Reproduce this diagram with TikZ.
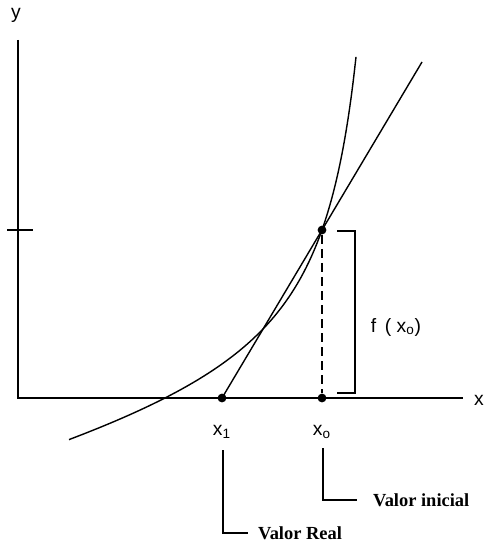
\documentclass[tikz,border=0pt]{standalone}
\usepackage{fontspec}
\setmainfont{Liberation Serif}
\setsansfont{Liberation Sans}
\usetikzlibrary{calc, positioning}

\tikzset{
  eixo/.style={black, line width=1.1pt},
  curva/.style={black, line width=0.8pt},
  ponto/.style={circle, fill=black, inner sep=0pt, minimum size=5pt},
  rotulo/.style={font=\sffamily\fontsize{11}{12}\selectfont, inner sep=1pt},
  nota/.style={font=\bfseries\fontsize{10.5}{12}\selectfont, inner sep=1pt, anchor=west}
}

\begin{document}
\begin{tikzpicture}[x=0.02cm, y=-0.02cm]
      \useasboundingbox (0,0) rectangle (485,544);

      % 1. eixos
      \coordinate (O) at (18,398);
      \coordinate (Ytop) at (18,40);
      \coordinate (Xend) at (463,398);
      \draw[eixo] (Ytop) -- (O) -- (Xend);
      \node[rotulo] (ylab) at (16,15) {y};
      \node[rotulo] (xlab) at (479,400) {x};
      \draw[eixo] (7,230) -- (33,230);

      % 2. curva f
      \draw[curva] plot[domain=69:356, samples=120, smooth]
        (\x, {398-(13775/(395-\x)+0.25*\x-101.1)});

      % 3. pontos x_1, x_0 e f(x_0)
      \node[ponto] (P1) at (222,398) {};
      \node[ponto] (P0) at (322,398) {};
      \node[ponto] (F0) at (322,230) {};

      % 4. reta tangente
      \coordinate (T) at ($(P1)!2!(F0)$);
      \draw[curva] (P1.center) -- (T);
      \draw[curva, dashed, dash pattern=on 5pt off 3pt] (F0) -- (P0);

      % 5. chave de f(x_0)
      \coordinate (B1) at (337,231);
      \coordinate (B2) at (355,231);
      \coordinate (B3) at (355,393);
      \coordinate (B4) at (337,393);
      \draw[curva] (B1) -- (B2) -- (B3) -- (B4);
      \node[rotulo] (fx0) at (396,327) {f \,( x\textsubscript{o})};

      % 6. rotulos e indicacoes
      \node[rotulo] (x1lab) at (222,432) {x\textsubscript{1}};
      \node[rotulo] (x0lab) at (322,432) {x\textsubscript{o}};
      \node[nota] (inicial) at (371,500) {Valor inicial};
      \node[nota] (real) at (256,533) {Valor Real};
      \coordinate (L0) at (323,448);
      \coordinate (L1) at (223,450);
      \draw[curva] (L0) |- ($(inicial.west)+(-14,0)$);
      \draw[curva] (L1) |- ($(real.west)+(-8,0)$);
\end{tikzpicture}
\end{document}
